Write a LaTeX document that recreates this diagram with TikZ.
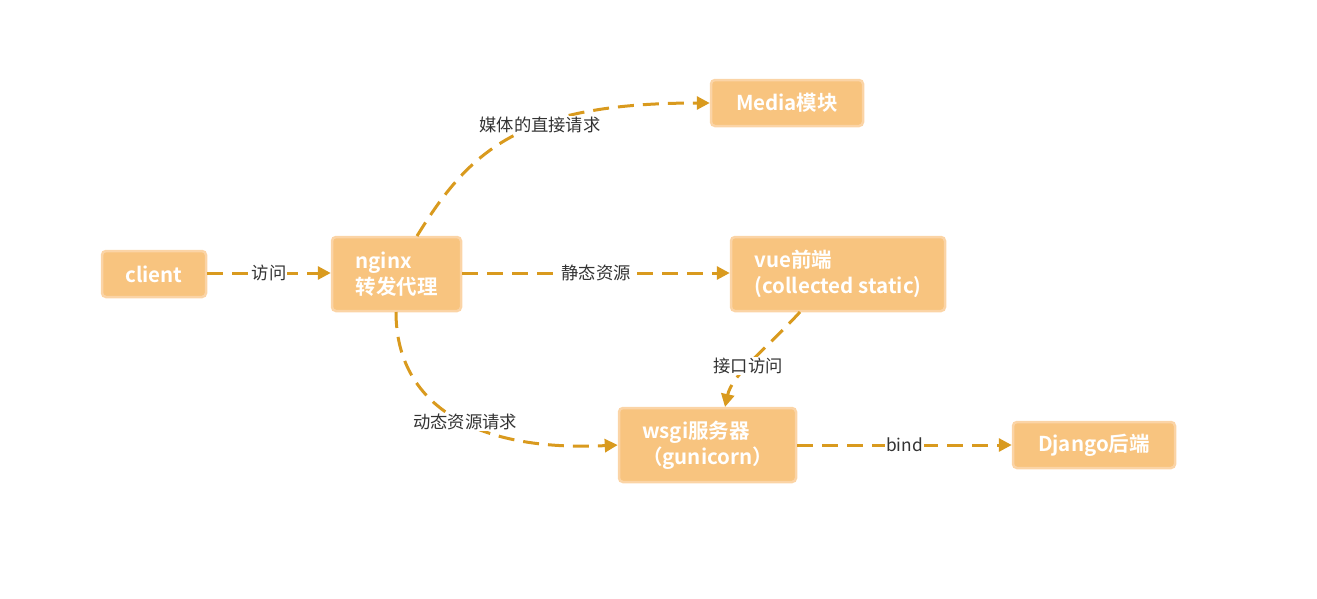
\documentclass[tikz,border=0pt]{standalone}
\usepackage{fontspec}
\setmainfont{Noto Sans CJK SC}[BoldFont={Noto Sans CJK SC Bold}]
\usetikzlibrary{arrows.meta}
\definecolor{boxfill}{HTML}{F8C47F}
\definecolor{boxline}{HTML}{FBD4A6}
\definecolor{edgec}{HTML}{D99A1E}
\definecolor{labc}{HTML}{333333}
\tikzset{
  box/.style={draw=boxline, fill=boxfill, line width=2.5pt, rounded corners=4pt,
    inner sep=0pt, align=left, text=white, font=\fontsize{20.5}{26}\selectfont\bfseries},
  flow/.style={draw=edgec, line width=3pt, dash pattern=on 16pt off 9pt,
    -{Triangle[length=13pt,width=13pt]}},
  lab/.style={fill=white, inner sep=1pt, text=labc, font=\fontsize{17.3}{19}\selectfont}
}
\begin{document}
\begin{tikzpicture}[x=1pt,y=-1pt]
\useasboundingbox (0,0) rectangle (1317,598);
\node[box, minimum width=104pt, minimum height=46pt] (client) at (154,274) {client};
\node[box, minimum width=129pt, minimum height=74pt] (nginx) at (396.5,274) {nginx\\转发代理};
\node[box, minimum width=152pt, minimum height=46pt] (media) at (787,103) {Media模块};
\node[box, minimum width=214pt, minimum height=74pt] (vue) at (838,274) {vue前端\\(collected static)};
\node[box, minimum width=177pt, minimum height=74pt] (wsgi) at (707.5,445) {wsgi服务器\\（gunicorn）};
\node[box, minimum width=162pt, minimum height=46pt] (django) at (1094,445) {Django后端};

\draw[flow] (client.east |- 0,273) -- node[lab] {访问} (nginx.west |- 0,273);
\draw[flow] (nginx.east |- 0,273) -- node[lab] {静态资源} (vue.west |- 0,273);
\draw[flow] (wsgi.east) -- node[lab] {bind} (django.west);
\coordinate (ntop) at (417,236);
\draw[flow] (ntop) .. controls (470,150) and (520,103) .. node[lab, pos=0.6] {媒体的直接请求} (media.west);
\coordinate (nbot) at (396,312);
\draw[flow] (nbot) .. controls (396,405) and (475,452) .. node[lab, pos=0.55] {动态资源请求} (wsgi.west);
\coordinate (vbot) at (800,312);
\coordinate (wtop) at (725,407);
\draw[flow] (vbot) .. controls (765,350) and (732,375) .. node[lab, pos=0.55] {接口访问} (wtop);
\end{tikzpicture}
\end{document}
